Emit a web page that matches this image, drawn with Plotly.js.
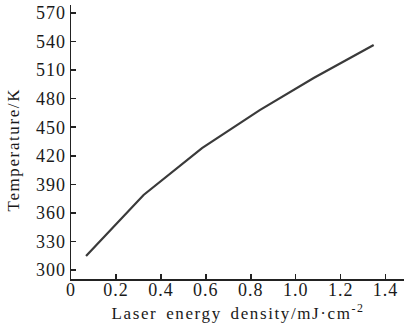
<!DOCTYPE html>
<html><head><meta charset="utf-8">
<script src="https://cdn.plot.ly/plotly-3.0.1.min.js"></script>
<style>
html,body{margin:0;padding:0;background:#fff}
#chart{width:404px;height:335px}
#chart .xtick text, #chart .ytick text{letter-spacing:1px}
#chart .annotation-text{letter-spacing:1.6px; word-spacing:3px}
</style>
</head><body><div id="chart"></div>
<script>
const energyDensity = [0.067, 0.323, 0.583, 0.84, 1.08, 1.347];
const temperature = [314.7, 378.8, 428, 468, 501.7, 536.3];
const xTickVals = [0, 0.2, 0.4, 0.6, 0.8, 1.0, 1.2, 1.4];
const xTickText = ["0", "0.2", "0.4", "0.6", "0.8", "1.0", "1.2", "1.4"];
const yTickVals = [300, 330, 360, 390, 420, 450, 480, 510, 540, 570];
const xTitle = "Laser energy density/mJ·cm<sup>-2</sup>";
const yTitle = "Temperature/K";

const font = {family: "Liberation Serif, Times New Roman, serif", size: 18, color: "#1a1a1a"};
Plotly.newPlot("chart", [{
  x: energyDensity, y: temperature, mode: "lines",
  line: {color: "#3a3a3a", width: 2.2}, hoverinfo: "skip"
}], {
  width: 404, height: 335,
  margin: {l: 71, r: 0, t: 5, b: 56},
  paper_bgcolor: "#fff", plot_bgcolor: "#fff",
  showlegend: false,
  font: font,
  xaxis: {
    range: [0, 1.482], tickvals: xTickVals, ticktext: xTickText,
    ticks: "inside", ticklen: 5, tickcolor: "#222", tickwidth: 1.5, ticklabelstandoff: -6,
    showline: true, linecolor: "#222", linewidth: 1.5, showgrid: false, zeroline: false
  },
  yaxis: {
    range: [290.5, 578.4], tickvals: yTickVals,
    ticks: "inside", ticklen: 5, tickcolor: "#222", tickwidth: 1.5,
    showline: true, linecolor: "#222", linewidth: 1.5, showgrid: false, zeroline: false
  },
  annotations: [
    {text: xTitle, xref: "paper", yref: "paper", x: 0.5, y: -0.12, xanchor: "center", yanchor: "middle",
     showarrow: false, font: {size: 17}},
    {text: yTitle, xref: "paper", yref: "paper", x: -0.171, y: 0.471, xanchor: "center", yanchor: "middle",
     textangle: -90, showarrow: false, font: {size: 17}}
  ]
}, {staticPlot: true, displayModeBar: false});
</script></body></html>
